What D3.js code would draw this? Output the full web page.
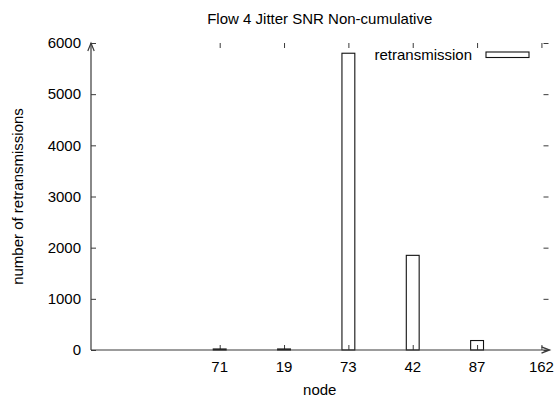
<!DOCTYPE html>
<html>
<head>
<meta charset="utf-8">
<script src="https://cdn.jsdelivr.net/npm/d3@7"></script>
<style>
  html, body { margin: 0; padding: 0; background: #fff; }
  svg text { font-family: "Liberation Sans", Arial, Helvetica, sans-serif; fill: #000; }
</style>
</head>
<body>
<svg id="chart" width="558" height="402"></svg>
<script>
// Retransmissions per node (flow 4, jitter SNR, non-cumulative)
const nodes = ["71", "19", "73", "42", "87", "162"];
const retransmissions = [20, 20, 5800, 1850, 185, 0];
const yTicks = [0, 1000, 2000, 3000, 4000, 5000, 6000];
const titleText = "Flow 4 Jitter SNR Non-cumulative";
const seriesName = "retransmission";

(function draw() {
  const svg = d3.select("#chart");
  const plotLeft = 91, plotRight = 548.5, plotTop = 43, plotBottom = 350;
  const fontSize = 15;
  const axisColor = "#3a3a3a";

  // categories sit at integer slots starting at 2
  const x = d3.scaleLinear().domain([0, 7.11]).range([plotLeft, plotRight]);
  const slot = i => x(i + 2);
  const y = d3.scaleLinear().domain([0, 6000]).range([plotBottom, plotTop]);
  const boxWidth = x(0.2) - x(0);
  const slotValues = nodes.map((d, i) => i + 2);

  // y ticks: left (inward) and mirrored on the right
  svg.append("g").attr("transform", `translate(${plotLeft},0)`)
    .call(d3.axisRight(y).tickValues(yTicks).tickSize(5).tickFormat(""));
  svg.append("g").attr("transform", `translate(${plotRight},0)`)
    .call(d3.axisLeft(y).tickValues(yTicks).tickSize(5).tickFormat(""));

  // x ticks: bottom (inward) and mirrored on top
  svg.append("g").attr("transform", `translate(0,${plotBottom})`)
    .call(d3.axisTop(x).tickValues(slotValues).tickSize(5).tickFormat(""));
  svg.append("g").attr("transform", `translate(0,${plotTop})`)
    .call(d3.axisBottom(x).tickValues(slotValues).tickSize(5).tickFormat(""));

  svg.selectAll(".domain").remove();
  svg.selectAll(".tick line").attr("stroke", axisColor).attr("stroke-width", 1);

  // tick labels
  svg.append("g").selectAll("text").data(yTicks).join("text")
    .attr("x", 81).attr("y", d => y(d)).attr("dy", "0.35em")
    .attr("text-anchor", "end").attr("font-size", fontSize).text(d => d);
  svg.append("g").selectAll("text").data(nodes).join("text")
    .attr("x", (d, i) => slot(i)).attr("y", 367).attr("dy", "0.35em")
    .attr("text-anchor", "middle").attr("font-size", fontSize).text(d => d);

  // bars
  svg.append("g").selectAll("rect").data(retransmissions).join("rect")
    .attr("x", (d, i) => slot(i) - boxWidth / 2)
    .attr("width", boxWidth)
    .attr("y", d => y(d))
    .attr("height", d => Math.max(0, y(0) - y(d)))
    .attr("fill", "none").attr("stroke", "#111").attr("stroke-width", 1.1);

  // axis arrows
  const ah = 8, aw = 3.2;
  svg.append("line").attr("x1", plotLeft).attr("y1", plotBottom).attr("x2", plotLeft).attr("y2", plotTop)
    .attr("stroke", axisColor).attr("stroke-width", 1.2);
  svg.append("path").attr("d", `M${plotLeft - aw},${plotTop + ah}L${plotLeft},${plotTop}L${plotLeft + aw},${plotTop + ah}`)
    .attr("fill", "none").attr("stroke", axisColor).attr("stroke-width", 1.2);
  svg.append("line").attr("x1", plotLeft).attr("y1", plotBottom).attr("x2", plotRight + 1).attr("y2", plotBottom)
    .attr("stroke", axisColor).attr("stroke-width", 1.2);
  svg.append("path").attr("d", `M${plotRight + 1 - ah},${plotBottom - aw}L${plotRight + 1},${plotBottom}L${plotRight + 1 - ah},${plotBottom + aw}`)
    .attr("fill", "none").attr("stroke", axisColor).attr("stroke-width", 1.4);

  // legend
  svg.append("text").attr("x", 472).attr("y", 55).attr("dy", "0.35em")
    .attr("text-anchor", "end").attr("font-size", fontSize).text(seriesName);
  svg.append("rect").attr("x", 486).attr("y", 52).attr("width", 43).attr("height", 5.5)
    .attr("fill", "none").attr("stroke", "#111").attr("stroke-width", 1.1);

  // title and axis labels
  svg.append("text").attr("x", (plotLeft + plotRight) / 2).attr("y", 19).attr("dy", "0.35em")
    .attr("text-anchor", "middle").attr("font-size", fontSize).text(titleText);
  svg.append("text").attr("x", (plotLeft + plotRight) / 2).attr("y", 390).attr("dy", "0.35em")
    .attr("text-anchor", "middle").attr("font-size", fontSize).text("node");
  svg.append("text")
    .attr("transform", `translate(18,${(plotTop + plotBottom) / 2}) rotate(-90)`)
    .attr("dy", "0.35em").attr("text-anchor", "middle").attr("font-size", fontSize)
    .text("number of retransmissions");
})();
</script>
</body>
</html>
